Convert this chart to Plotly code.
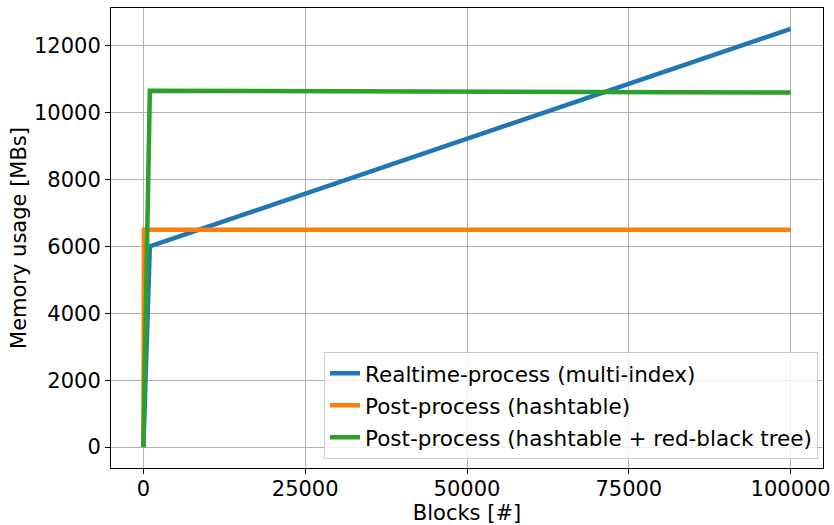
import plotly.graph_objects as go

blue_x = [0, 800, 1000, 100000]
blue_y = [0, 4100, 6000, 12500]
orange_x = [0, 100, 100000]
orange_y = [0, 6500, 6500]
green_x = [0, 1000, 100000]
green_y = [0, 10650, 10600]
names = ["Realtime-process (multi-index)", "Post-process (hashtable)",
         "Post-process (hashtable + red-black tree)"]
colors = ["#1f77b4", "#ff7f0e", "#2ca02c"]

fig = go.Figure()
for i, (xs, ys, n, c) in enumerate(zip([blue_x, orange_x, green_x], [blue_y, orange_y, green_y], names, colors)):
    fig.add_trace(go.Scatter(x=xs, y=ys, mode="lines", name=n, legendgroup=f"g{i}",
                             line=dict(color=c, width=4.5)))

font = dict(family="DejaVu Sans", size=21, color="black")
axis_common = dict(showgrid=True, gridcolor="#b0b0b0", gridwidth=1,
                   showline=True, linecolor="black", linewidth=1, mirror=True,
                   ticks="outside", ticklen=5, tickcolor="black",
                   zeroline=False, tickfont=font, automargin=False)
fig.update_layout(
    width=834, height=525,
    margin=dict(l=111, r=11, t=8, b=57),
    paper_bgcolor="white", plot_bgcolor="white",
    font=font,
    showlegend=True,
    legend=dict(x=0.993, y=0.02, xanchor="right", yanchor="bottom",
                bgcolor="rgba(255,255,255,0.8)", bordercolor="#cccccc", borderwidth=1,
                font=dict(family="DejaVu Sans", size=21.5, color="black"),
                tracegroupgap=1),
)
fig.update_xaxes(range=[-5000, 105000], tickvals=[0, 25000, 50000, 75000, 100000],
                 ticktext=["0", "25000", "50000", "75000", "100000"],
                 ticklabelstandoff=-3,
                 title=dict(text="Blocks [#]", font=font, standoff=3), **axis_common)
fig.update_yaxes(range=[-625, 13125], tickvals=[0, 2000, 4000, 6000, 8000, 10000, 12000],
                 ticktext=["0", "2000", "4000", "6000", "8000", "10000", "12000"],
                 title=dict(text="Memory usage [MBs]", font=font, standoff=1), **axis_common)

fig.write_html("out.html", config={"displayModeBar": False},
               post_script="document.body.style.margin='0';")
